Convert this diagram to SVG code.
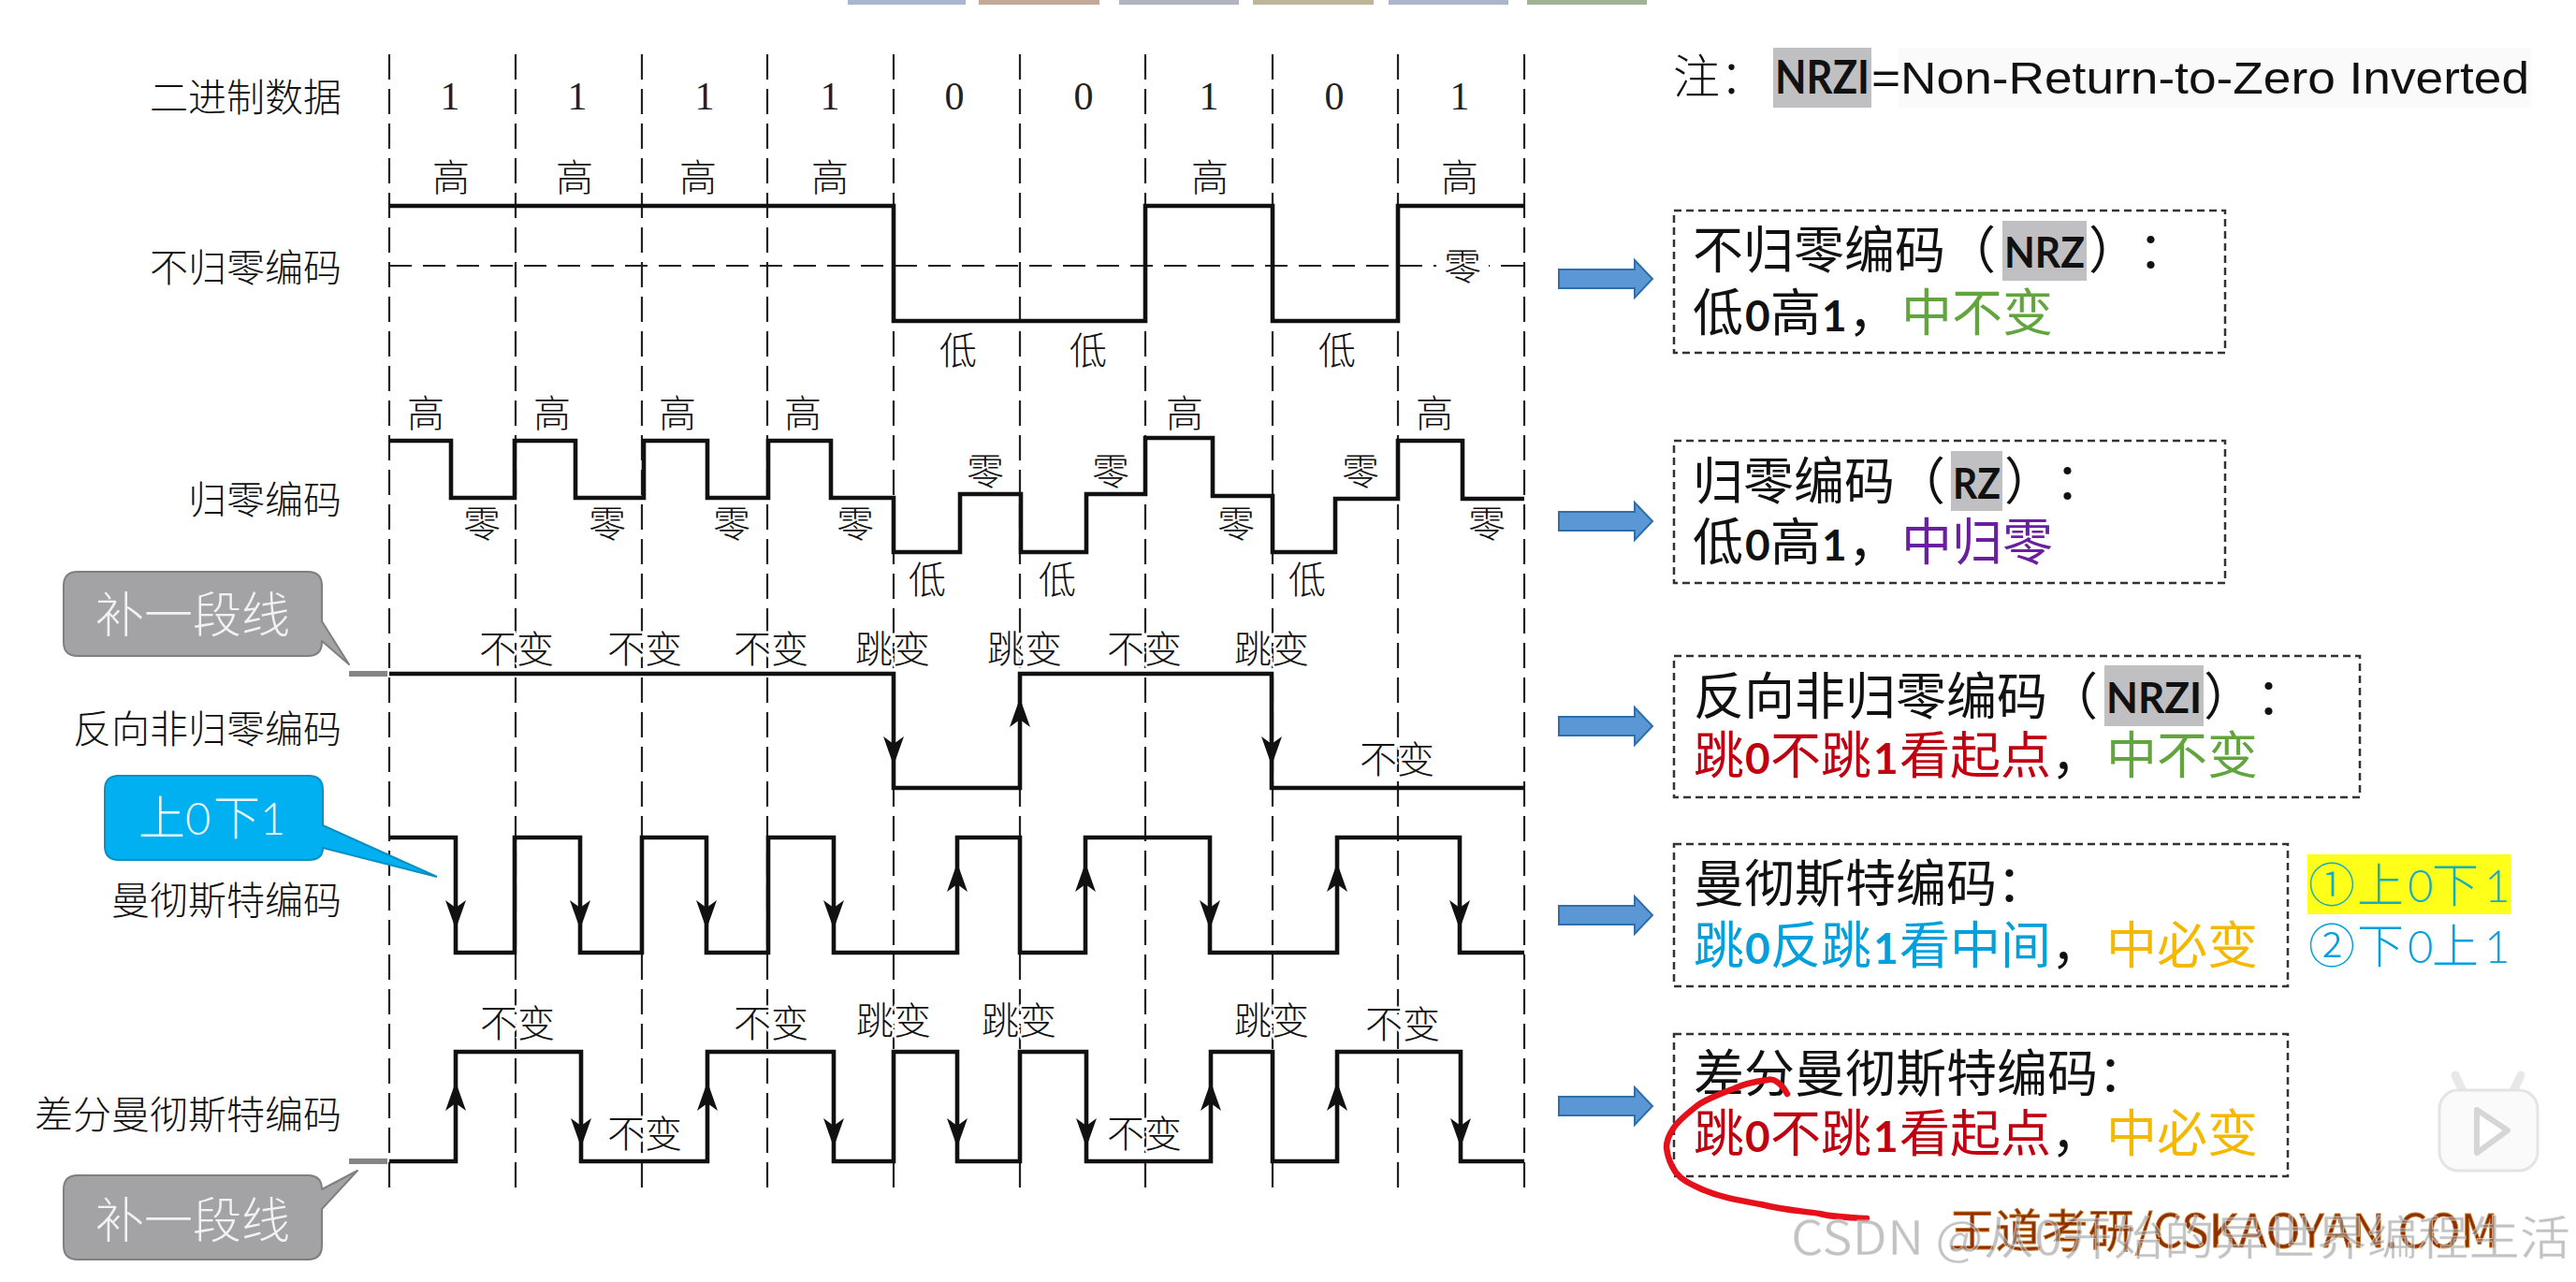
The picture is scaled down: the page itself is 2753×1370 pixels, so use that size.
<svg xmlns="http://www.w3.org/2000/svg" xmlns:xlink="http://www.w3.org/1999/xlink" width="2753" height="1370" viewBox="0 0 2753 1370">
<style>
text{font-family:"Noto Sans CJK SC",sans-serif}
.sig{fill:none;stroke:#111;stroke-width:4.6;stroke-linejoin:miter}
.grid{stroke:#222;stroke-width:2.2;stroke-dasharray:27 10;fill:none}
.mid{stroke:#222;stroke-width:2.2;stroke-dasharray:24 12;fill:none}
.name{font-family:"Liberation Serif","Noto Sans CJK SC",serif;font-size:41px;fill:#111;text-anchor:end;font-weight:300}
.lab{font-family:"Liberation Serif","Noto Sans CJK SC",serif;font-size:40px;fill:#111;text-anchor:middle;font-weight:300;stroke:#fff;stroke-width:5px;paint-order:stroke}
.bit{font-family:"Liberation Serif",serif;font-size:42px;fill:#222;text-anchor:middle}
.box{fill:none;stroke:#333;stroke-width:2.5;stroke-dasharray:8 5}
.t{font-size:54px;fill:#111}
.d{font-family:Lato,"Liberation Sans",sans-serif;font-weight:700;font-size:46px}
.key{font-family:Lato,"Liberation Sans",sans-serif;font-weight:700;font-size:46px;fill:#111}
.hl{fill:#c0c0c2}
.red{fill:#c00010}.green{fill:#62a53e}.purple{fill:#6a1fa0}.sky{fill:#00a0dc}.gold{fill:#f5b800}.k{fill:#111}
.block{fill:#5b97d5;stroke:#2f6ea8;stroke-width:2}
.call{font-size:52px;fill:#f2f2f2;text-anchor:middle;font-weight:300}
.gcall{fill:#a3a3a5;stroke:#7f7f7f;stroke-width:2;stroke-linejoin:round}
.stub{stroke:#858585;stroke-width:6;fill:none}
.n50{font-family:Lato,"Liberation Sans",sans-serif;font-size:47px}
</style>
<defs>
<path id="ad" d="M0,0 L-11,-31 L0,-23 L11,-31 Z" fill="#111"/>
<path id="au" d="M0,0 L-11,31 L0,23 L11,31 Z" fill="#111"/>
<path id="blk" class="block" d="M0,-10 H81 V-20 L100,0 L81,20 V10 H0 Z"/>
</defs>
<rect width="2753" height="1370" fill="#fff"/>
<g id="top-strips">
<rect x="906" y="0" width="126" height="5" fill="#a9b7ce"/>
<rect x="1046" y="0" width="129" height="5" fill="#c4a898"/>
<rect x="1196" y="0" width="128" height="5" fill="#b0b3c0"/>
<rect x="1339" y="0" width="129" height="5" fill="#bfb698"/>
<rect x="1484" y="0" width="128" height="5" fill="#acb5cc"/>
<rect x="1632" y="0" width="128" height="5" fill="#a0b394"/>
</g>
<g id="connectors">
<g id="grid">
<path class="grid" d="M416,58V1278M551,58V1278M686,58V1278M820,58V1278M955,58V1278M1090,58V1278M1224,58V1278M1360,58V1278M1494,58V1278M1629,58V1278"/>
<path class="mid" d="M416,284H1629"/>
</g>
<g id="stubs"><path class="stub" d="M373,720H414M373,1241H414"/></g>
<g id="signals">
<path class="sig" d="M416,220H955V343H1224V220H1360V343H1494V220H1629"/>
<path class="sig" d="M416,471H482V532H550V471H615V532H688V471H756V532H821V471H888V532H955V590H1026V528H1091V590H1161V528H1224V468H1296V530H1360V590H1427V533H1494V471H1563V533H1629"/>
<path class="sig" d="M416,720H955V842H1090V720H1359V842H1629"/>
<path class="sig" d="M416,895H487V1018H550V895H620V1018H686V895H755V1018H821V895H891V1018H1023V895H1090V1018H1160V895H1293V1018H1429V895H1560V1018H1629"/>
<path class="sig" d="M416,1241H487V1124H621V1241H756V1124H891V1241H955V1124H1023V1241H1090V1124H1161V1241H1294V1124H1360V1241H1429V1124H1561V1241H1629"/>
</g>
<g id="arrowheads">
<use href="#ad" x="955" y="818"/><use href="#au" x="1090" y="746"/><use href="#ad" x="1359" y="818"/>
<use href="#ad" x="487" y="993"/><use href="#ad" x="620" y="993"/><use href="#ad" x="755" y="993"/><use href="#ad" x="891" y="993"/>
<use href="#au" x="1023" y="922"/><use href="#au" x="1160" y="922"/><use href="#ad" x="1293" y="993"/><use href="#au" x="1429" y="922"/><use href="#ad" x="1560" y="993"/>
<use href="#au" x="487" y="1156"/><use href="#ad" x="621" y="1226"/><use href="#au" x="756" y="1156"/><use href="#ad" x="891" y="1226"/>
<use href="#ad" x="1023" y="1226"/><use href="#ad" x="1161" y="1226"/><use href="#au" x="1294" y="1156"/><use href="#au" x="1429" y="1156"/><use href="#ad" x="1561" y="1226"/>
</g>
<g id="block-arrows">
<use href="#blk" x="1666" y="298"/><use href="#blk" x="1666" y="557"/><use href="#blk" x="1666" y="776"/><use href="#blk" x="1666" y="978"/><use href="#blk" x="1666" y="1182"/>
</g>
</g>
<g id="row-names">
<text class="name" x="365" y="119">二进制数据</text>
<text class="name" x="365" y="301">不归零编码</text>
<text class="name" x="365" y="549">归零编码</text>
<text class="name" x="365" y="794">反向非归零编码</text>
<text class="name" x="365" y="977">曼彻斯特编码</text>
<text class="name" x="365" y="1206">差分曼彻斯特编码</text>
</g>
<g id="bits">
<text class="bit" x="481" y="117">1</text><text class="bit" x="617" y="117">1</text><text class="bit" x="753" y="117">1</text><text class="bit" x="887" y="117">1</text><text class="bit" x="1020" y="117">0</text><text class="bit" x="1158" y="117">0</text><text class="bit" x="1292" y="117">1</text><text class="bit" x="1426" y="117">0</text><text class="bit" x="1560" y="117">1</text>
</g>
<g id="nrz-labels">
<rect x="1535" y="262" width="56" height="44" fill="#fff"/>
<text class="lab" x="482" y="204">高</text><text class="lab" x="614" y="204">高</text><text class="lab" x="746" y="204">高</text><text class="lab" x="887" y="204">高</text><text class="lab" x="1293" y="204">高</text><text class="lab" x="1560" y="204">高</text>
<text class="lab" x="1024" y="389">低</text><text class="lab" x="1163" y="389">低</text><text class="lab" x="1429" y="389">低</text>
<text class="lab" x="1563" y="299">零</text>
</g>
<g id="rz-labels">
<text class="lab" x="455" y="456">高</text><text class="lab" x="590" y="456">高</text><text class="lab" x="724" y="456">高</text><text class="lab" x="858" y="456">高</text><text class="lab" x="1266" y="456">高</text><text class="lab" x="1533" y="456">高</text>
<text class="lab" x="515" y="574">零</text><text class="lab" x="649" y="574">零</text><text class="lab" x="782" y="574">零</text><text class="lab" x="914" y="574">零</text><text class="lab" x="1321" y="574">零</text><text class="lab" x="1589" y="574">零</text>
<text class="lab" x="1053" y="518">零</text><text class="lab" x="1187" y="518">零</text><text class="lab" x="1454" y="518">零</text>
<text class="lab" x="991" y="634">低</text><text class="lab" x="1130" y="634">低</text><text class="lab" x="1397" y="634">低</text>
</g>
<g id="nrzi-labels">
<text class="lab" x="552" y="708">不变</text><text class="lab" x="689" y="708">不变</text><text class="lab" x="824" y="708">不变</text><text class="lab" x="954" y="708">跳变</text><text class="lab" x="1095" y="708">跳变</text><text class="lab" x="1223" y="708">不变</text><text class="lab" x="1359" y="708">跳变</text><text class="lab" x="1493" y="826">不变</text>
</g>
<g id="diff-labels">
<text class="lab" x="553" y="1108">不变</text><text class="lab" x="824" y="1108">不变</text><text class="lab" x="955" y="1105">跳变</text><text class="lab" x="1089" y="1105">跳变</text><text class="lab" x="1359" y="1105">跳变</text><text class="lab" x="1499" y="1109">不变</text>
<text class="lab" x="689" y="1226">不变</text><text class="lab" x="1223" y="1226">不变</text>
</g>
<g id="callout-top">
<path class="gcall" d="M83,611H329Q344,611 344,626V664L373,710L344,685V686Q344,701 329,701H83Q68,701 68,686V626Q68,611 83,611Z"/>
<text class="call" x="206" y="676">补一段线</text>
</g>
<g id="callout-bottom">
<path class="gcall" d="M83,1256H329Q344,1256 344,1271L382,1251L344,1292V1331Q344,1346 329,1346H83Q68,1346 68,1331V1271Q68,1256 83,1256Z"/>
<text class="call" x="206" y="1323">补一段线</text>
</g>
<g id="callout-blue">
<path d="M127,829H330Q345,829 345,844V882L467,937L345,906Q345,919 330,919H127Q112,919 112,904V844Q112,829 127,829Z" fill="#00b0f0" stroke="#0a8fc2" stroke-width="2"/>
<text x="148" y="892" font-size="50" fill="#e8f8ff" font-weight="300">上<tspan class="n50">0</tspan></text>
<text x="228" y="892" font-size="50" fill="#e8f8ff" font-weight="300">下<tspan class="n50">1</tspan></text>
</g>
<g id="note">
<rect x="2029" y="51" width="676" height="64" fill="#fafafa"/>
<rect class="hl" x="1895" y="51" width="105" height="64"/>
<text x="1788" y="100" font-size="50" fill="#111" font-weight="300">注：</text>
<text class="key" x="1897" y="100" style="font-size:50px" textLength="101" lengthAdjust="spacingAndGlyphs">NRZI</text>
<text x="2000" y="100" style="font-family:'Liberation Sans',sans-serif;font-size:49px" fill="#111" textLength="703" lengthAdjust="spacingAndGlyphs">=Non-Return-to-Zero Inverted</text>
</g>
<g id="box-nrz">
<rect class="box" x="1789" y="225" width="589" height="152"/>
<rect class="hl" x="2140" y="236" width="90" height="64"/>
<text class="t" x="1809" y="287">不归零编码（</text>
<text class="key" x="2142" y="286" textLength="86" lengthAdjust="spacingAndGlyphs">NRZ</text>
<text class="t" x="2232" y="287">）</text><text class="t" x="2285" y="287">：</text>
<text class="t" y="354"><tspan x="1809">低</tspan><tspan x="1865" class="d">0</tspan><tspan x="1892">高</tspan><tspan x="1947" class="d">1</tspan><tspan x="1975">，</tspan><tspan x="2032" class="green">中不变</tspan></text>
</g>
<g id="box-rz">
<rect class="box" x="1789" y="471" width="589" height="152"/>
<rect class="hl" x="2085" y="482" width="55" height="64"/>
<text class="t" x="1809" y="534">归零编码（</text>
<text class="key" x="2087" y="533" textLength="51" lengthAdjust="spacingAndGlyphs">RZ</text>
<text class="t" x="2142" y="534">）</text><text class="t" x="2196" y="534">：</text>
<text class="t" y="599"><tspan x="1809">低</tspan><tspan x="1865" class="d">0</tspan><tspan x="1892">高</tspan><tspan x="1947" class="d">1</tspan><tspan x="1975">，</tspan><tspan x="2032" class="purple">中归零</tspan></text>
</g>
<g id="box-nrzi">
<rect class="box" x="1789" y="701" width="733" height="151"/>
<rect class="hl" x="2249" y="711" width="106" height="65"/>
<text class="t" x="1810" y="764">反向非归零编码（</text>
<text class="key" x="2251" y="762" textLength="102" lengthAdjust="spacingAndGlyphs">NRZI</text>
<text class="t" x="2355" y="764">）</text><text class="t" x="2411" y="764">：</text>
<text class="t" y="827"><tspan class="red"><tspan x="1810">跳</tspan><tspan x="1865" class="d">0</tspan><tspan x="1892">不跳</tspan><tspan x="2002" class="d">1</tspan><tspan x="2030">看起点</tspan></tspan><tspan x="2192">，</tspan><tspan x="2251" class="green">中不变</tspan></text>
</g>
<g id="box-manchester">
<rect class="box" x="1789" y="902" width="656" height="152"/>
<text class="t" x="1810" y="964">曼彻斯特编码：</text>
<text class="t" y="1030"><tspan class="sky"><tspan x="1810">跳</tspan><tspan x="1865" class="d">0</tspan><tspan x="1892">反跳</tspan><tspan x="2002" class="d">1</tspan><tspan x="2030">看中间</tspan></tspan><tspan x="2192">，</tspan><tspan x="2251" class="gold">中必变</tspan></text>
</g>
<g id="manchester-options">
<rect x="2466" y="913" width="217" height="64" fill="#ffff1a"/>
<text x="2467" y="964" font-size="50" fill="#10b0c0" font-weight="300"><tspan x="2467">①</tspan><tspan x="2519">上</tspan><tspan x="2573" class="n50">0</tspan><tspan x="2599">下</tspan><tspan x="2655" class="n50">1</tspan></text>
<text x="2467" y="1029" font-size="50" fill="#00a0dc" font-weight="300"><tspan x="2467">②</tspan><tspan x="2519">下</tspan><tspan x="2573" class="n50">0</tspan><tspan x="2599">上</tspan><tspan x="2655" class="n50">1</tspan></text>
</g>
<g id="box-diff">
<rect class="box" x="1789" y="1105" width="656" height="152"/>
<text class="t" x="1810" y="1167">差分曼彻斯特编码：</text>
<text class="t" y="1231"><tspan class="red"><tspan x="1810">跳</tspan><tspan x="1865" class="d">0</tspan><tspan x="1892">不跳</tspan><tspan x="2002" class="d">1</tspan><tspan x="2030">看起点</tspan></tspan><tspan x="2192">，</tspan><tspan x="2251" class="gold">中必变</tspan></text>
</g>
<g id="annotation">
<path d="M1910,1169C1904,1158 1896,1152 1889,1154C1874,1156 1864,1158 1854,1163C1836,1170 1820,1176 1812,1183C1798,1194 1790,1202 1787,1208C1782,1216 1781,1222 1781,1226C1782,1236 1786,1246 1791,1253C1798,1262 1808,1266 1819,1271C1840,1280 1860,1283 1882,1287C1905,1293 1925,1294 1945,1297C1960,1301 1980,1301 1995,1302" fill="none" stroke="#e5101a" stroke-width="6.5" stroke-linecap="round"/>
</g>
<g id="play-badge">
<path d="M2632,1166L2624,1149M2686,1166L2694,1149" stroke="#e8e8e8" stroke-width="9" stroke-linecap="round"/>
<rect x="2607" y="1165" width="105" height="86" rx="20" fill="#fafafa" stroke="#e4e4e4" stroke-width="3"/>
<path d="M2647,1186L2680,1208L2647,1232Z" fill="#fff" stroke="#d6d6d6" stroke-width="6" stroke-linejoin="round"/>
</g>
<g id="watermarks">
<text x="2083" y="1333" font-size="49" fill="#8f2f00" stroke="#c47a20" stroke-width=".8" textLength="587" lengthAdjust="spacingAndGlyphs">王道考研/CSKAOYAN.COM</text>
<text x="1914" y="1341" font-size="50" fill="#9a9a9a" fill-opacity=".6" stroke="#fff" stroke-width="1" stroke-opacity=".5" textLength="833" lengthAdjust="spacingAndGlyphs">CSDN @从0开始的异世界编程生活</text>
</g>
</svg>
